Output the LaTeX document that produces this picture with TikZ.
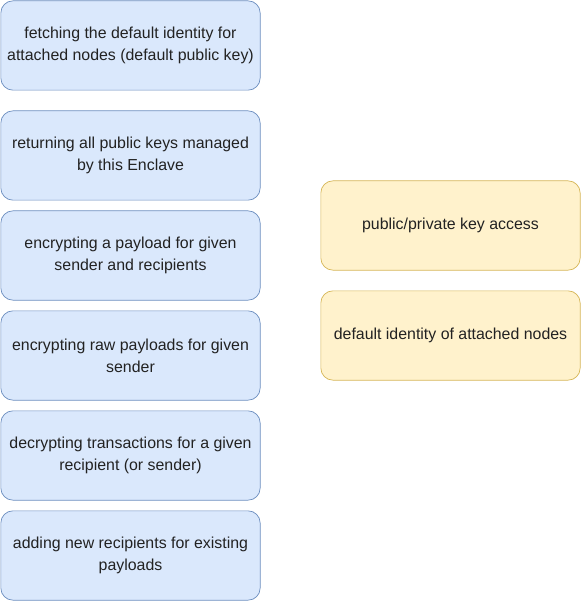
\documentclass[tikz,border=0pt]{standalone}
\usepackage{fontspec}
\setmainfont{Liberation Sans}
\usetikzlibrary{positioning}
\definecolor{bluefill}{HTML}{DAE8FC}
\definecolor{bluedraw}{HTML}{6C8EBF}
\definecolor{yellowfill}{HTML}{FFF2CC}
\definecolor{yellowdraw}{HTML}{D6B656}
\definecolor{textgray}{HTML}{222222}

\begin{document}
\begin{tikzpicture}[
  x=1pt, y=1pt,
  node distance=10pt,
  box/.style={rectangle, rounded corners=12pt, draw=bluedraw, fill=bluefill, align=center,
    line width=0.7pt, minimum width=259.3pt, minimum height=89.3pt, inner sep=0pt,
    text=textgray, font=\fontsize{15.9}{22}\selectfont},
  keybox/.style={box, draw=yellowdraw, fill=yellowfill}
]
\useasboundingbox (0,0) rectangle (581,-601);
\node[box] (fetch) at (130.5,-45.5) {fetching the default identity for\\attached nodes (default public key)};
\node[box, below=20pt of fetch] (keys) {returning all public keys managed\\by this Enclave};
\node[box, below=of keys] (encpay) {encrypting a payload for given\\sender and recipients};
\node[box, below=of encpay] (encraw) {encrypting raw payloads for given\\sender};
\node[box, below=of encraw] (decrypt) {decrypting transactions for a given\\recipient (or sender)};
\node[box, below=of decrypt] (addrcpt) {adding new recipients for existing\\payloads};
\node[keybox] (access) at (450.5,-225.5) {public/private key access};
\node[keybox, below=20pt of access] (identity) {default identity of attached nodes};
\end{tikzpicture}
\end{document}
